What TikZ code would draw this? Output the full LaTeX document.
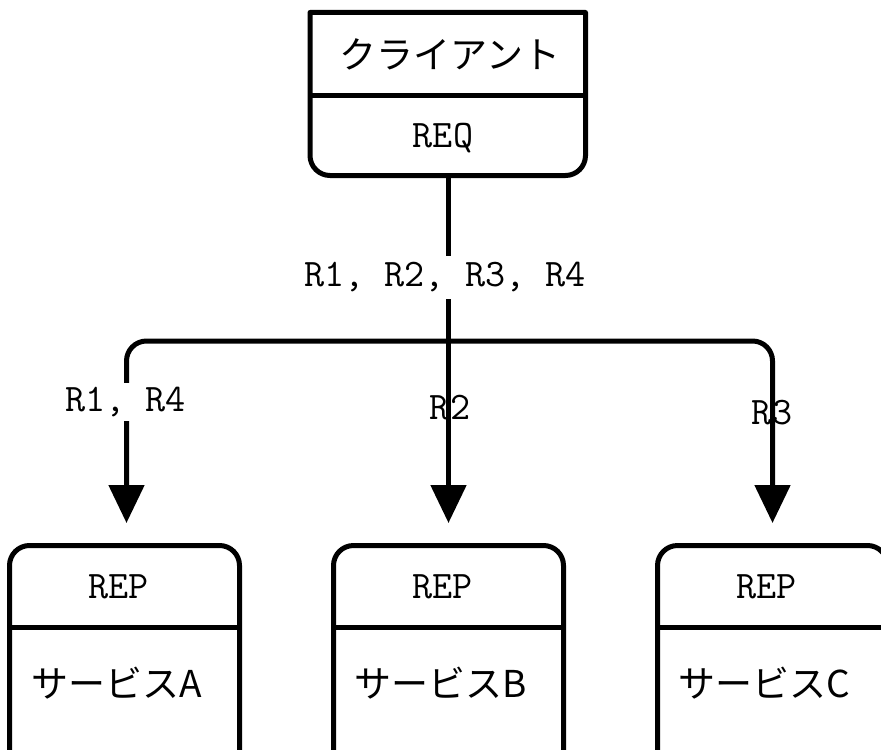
\documentclass[tikz,border=0pt]{standalone}
\usepackage{fontspec}
\newfontfamily\jpfont{Noto Sans CJK JP}
\usetikzlibrary{arrows.meta}

\tikzset{
  box/.style={line width=2.5pt},
  flow/.style={line width=2.5pt, rounded corners=10pt, -{Triangle[length=19pt,width=17.5pt]}},
  lbl/.style={font=\ttfamily\fontsize{19.5}{22}\selectfont, inner sep=1pt},
  jp/.style={font=\jpfont\fontsize{18.5}{22}\selectfont, inner sep=0pt},
}

\begin{document}
\begin{tikzpicture}[x=0.5pt, y=-0.5pt, line join=round]
\clip (0,0) rectangle (881,749);
% points for the fan-out
\coordinate (cli)  at (448.5,175.5);
\coordinate (fork) at (448.5,341);
\coordinate (tipA) at (126.5,523);
\coordinate (tipB) at (448.5,523);
\coordinate (tipC) at (772.5,523);
% client: square top, rounded bottom
\draw[box] (448,12.5) -- (310,12.5) -- (310,95.5) [rounded corners=10pt] -- (310,175.5) -- (585.5,175.5) -- (585.5,95.5) [sharp corners] -- (585.5,12.5) -- cycle;
\draw[box] (310,95.5) -- (585.5,95.5);
\node[jp]  (client) at (450,54)  {クライアント};
\node[lbl] (req)    at (443,138) {REQ};
% services, cut off at the bottom
\foreach \x/\s in {9.5/A, 333.5/B, 657.5/C} {
  \draw[box,rounded corners=10pt] (\x,800) -- (\x,545.5) -- (\x+230,545.5) -- (\x+230,800);
  \draw[box] (\x,627) -- (\x+230,627);
  \node[lbl] (rep\s) at (\x+109,587) {REP};
  \node[jp]  (svc\s) at (\x+107,683) {サービス\s};
}
\node[lbl] (r2) at (450,408) {R2};
\node[lbl] (r3) at (772,413) {R3};
\draw[flow] (cli) -- (fork) -- (tipB);
\draw[flow] (fork) -| (tipA);
\draw[flow] (fork) -| (tipC);
\node[lbl,fill=white,minimum height=21.5pt] (all) at (445,277)   {R1, R2, R3, R4};
\node[lbl,fill=white,minimum height=19pt]   (r14) at (125.5,402) {R1, R4};
\end{tikzpicture}
\end{document}
